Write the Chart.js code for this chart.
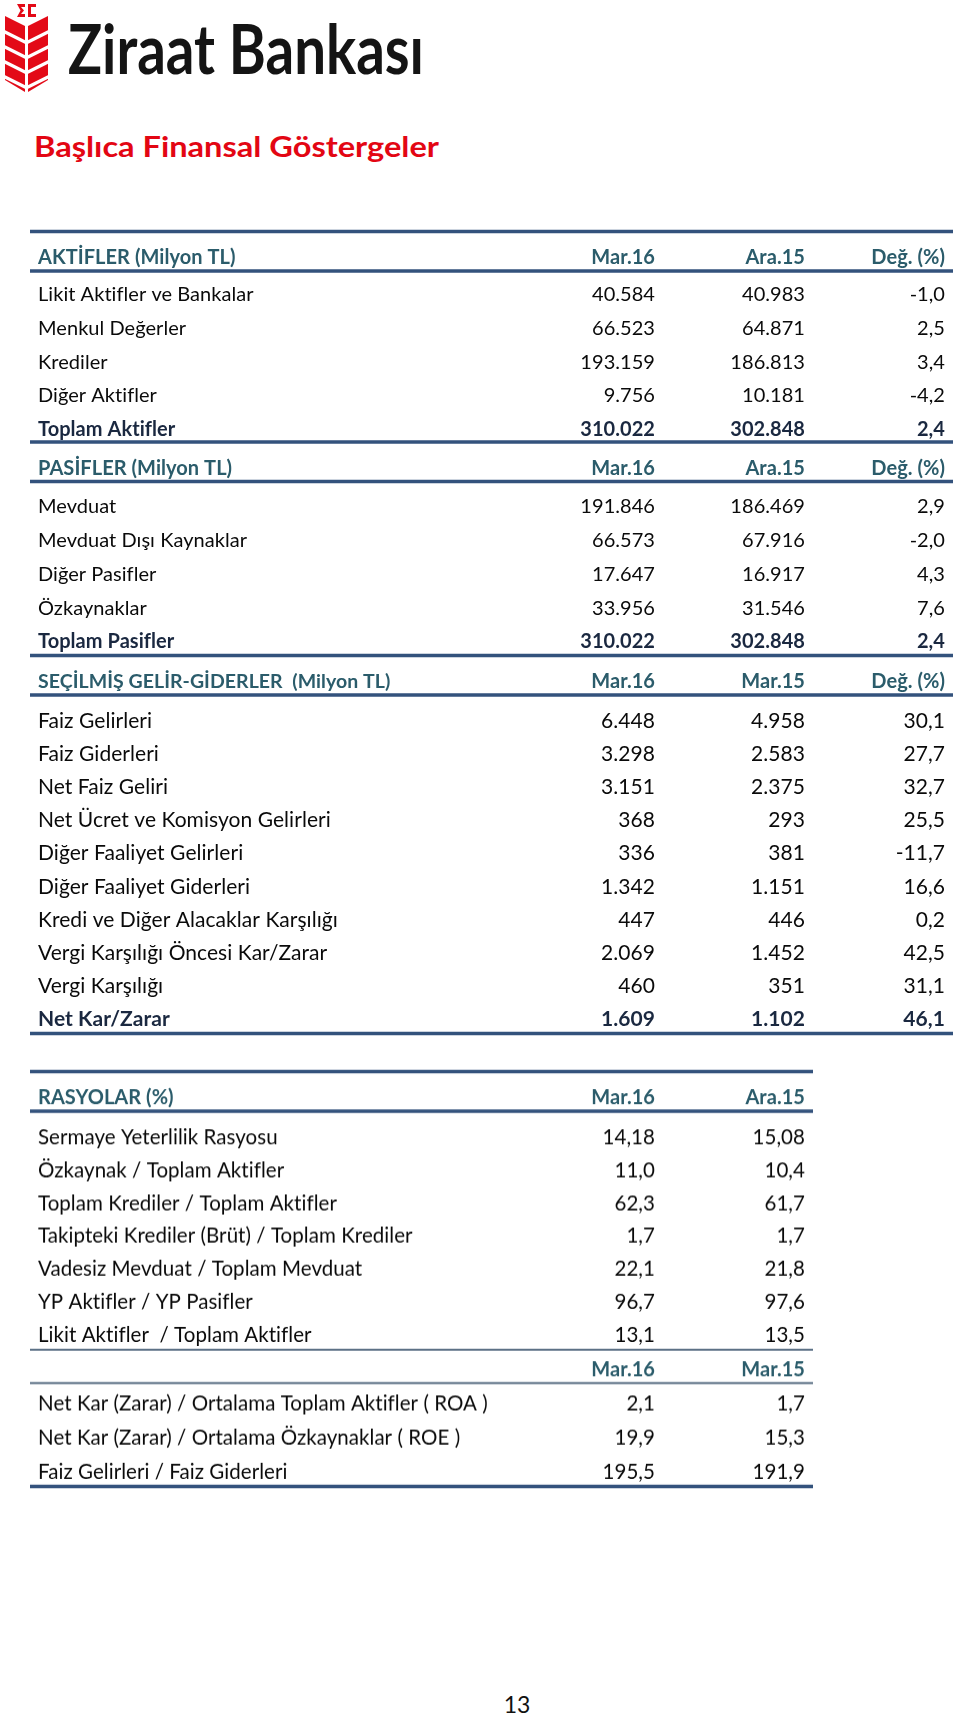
<!DOCTYPE html>
<html lang="tr">
<head>
<meta charset="utf-8">
<title>Başlıca Finansal Göstergeler</title>
<script src="https://cdn.jsdelivr.net/npm/chart.js@4.4.1/dist/chart.umd.min.js"></script>
<style>
  html, body { margin: 0; padding: 0; background: #fff; }
  body { width: 960px; height: 1715px; position: relative; overflow: hidden; font-family: Lato, 'Open Sans', sans-serif; }
  #page { position: absolute; left: 0; top: 0; font-variant-ligatures: none; }
  .section { position: absolute; left: 0; width: 960px; }
</style>
</head>
<body>
<svg id="page" width="960" height="1715" viewBox="0 0 960 1715">
  <!-- amblem -->
  <g fill="#e30a17">
    <polygon points="5,16 25,26 25,92 5,80"/>
    <polygon points="48,16 28,26 28,92 48,80"/>
    <path d="M17,4 L25,4 L25,7 L21,7 L24,10.5 L21,14 L25,14 L25,17 L17,17 L20.5,10.5 Z"/>
    <path d="M36,4 L28,4 L28,17 L36,17 L36,14 L31,14 L31,7 L36,7 Z"/>
  </g>
  <g stroke="#fff" stroke-width="3.2">
    <line x1="3" y1="31" x2="27" y2="43"/>
    <line x1="3" y1="46" x2="27" y2="58"/>
    <line x1="3" y1="61" x2="27" y2="73"/>
    <line x1="3" y1="76" x2="27" y2="88"/>
    <line x1="50" y1="31" x2="26" y2="43"/>
    <line x1="50" y1="46" x2="26" y2="58"/>
    <line x1="50" y1="61" x2="26" y2="73"/>
    <line x1="50" y1="76" x2="26" y2="88"/>
  </g>
  <text x="68" y="74" font-family="Lato" font-weight="700" font-size="69" fill="#141414" textLength="356" lengthAdjust="spacingAndGlyphs">Ziraat Bankası</text>
  <text x="34" y="157" font-family="Lato" font-weight="700" font-size="28" fill="#e30613" textLength="405" lengthAdjust="spacingAndGlyphs">Başlıca Finansal Göstergeler</text>
  <text x="517" y="1713" text-anchor="middle" font-family="Lato" font-size="23" fill="#111">13</text>
</svg>

<div id="aktif" class="section"><canvas></canvas></div>
<div id="pasif" class="section"><canvas></canvas></div>
<div id="gelir" class="section"><canvas></canvas></div>
<div id="rasyo" class="section"><canvas></canvas></div>
<div id="karlilik" class="section"><canvas></canvas></div>

<script>
// --- veriler ---
const aktifTitle = 'AKTİFLER (Milyon TL)';
const aktifColumns = ['Mar.16', 'Ara.15', 'Değ. (%)'];
const aktifLabels = ['Likit Aktifler ve Bankalar', 'Menkul Değerler', 'Krediler', 'Diğer Aktifler', 'Toplam Aktifler'];
const aktifMar16 = [40584, 66523, 193159, 9756, 310022];
const aktifAra15 = [40983, 64871, 186813, 10181, 302848];
const aktifDeg = [-1.0, 2.5, 3.4, -4.2, 2.4];

const pasifTitle = 'PASİFLER (Milyon TL)';
const pasifColumns = ['Mar.16', 'Ara.15', 'Değ. (%)'];
const pasifLabels = ['Mevduat', 'Mevduat Dışı Kaynaklar', 'Diğer Pasifler', 'Özkaynaklar', 'Toplam Pasifler'];
const pasifMar16 = [191846, 66573, 17647, 33956, 310022];
const pasifAra15 = [186469, 67916, 16917, 31546, 302848];
const pasifDeg = [2.9, -2.0, 4.3, 7.6, 2.4];

const gelirTitle = 'SEÇİLMİŞ GELİR-GİDERLER  (Milyon TL)';
const gelirColumns = ['Mar.16', 'Mar.15', 'Değ. (%)'];
const gelirLabels = [
    'Faiz Gelirleri', 'Faiz Giderleri', 'Net Faiz Geliri', 'Net Ücret ve Komisyon Gelirleri',
    'Diğer Faaliyet Gelirleri', 'Diğer Faaliyet Giderleri', 'Kredi ve Diğer Alacaklar Karşılığı',
    'Vergi Karşılığı Öncesi Kar/Zarar', 'Vergi Karşılığı', 'Net Kar/Zarar'
];
const gelirMar16 = [6448, 3298, 3151, 368, 336, 1342, 447, 2069, 460, 1609];
const gelirMar15 = [4958, 2583, 2375, 293, 381, 1151, 446, 1452, 351, 1102];
const gelirDeg = [30.1, 27.7, 32.7, 25.5, -11.7, 16.6, 0.2, 42.5, 31.1, 46.1];

const rasyoTitle = 'RASYOLAR (%)';
const rasyoColumns = ['Mar.16', 'Ara.15'];
const rasyoLabels = [
    'Sermaye Yeterlilik Rasyosu', 'Özkaynak / Toplam Aktifler', 'Toplam Krediler / Toplam Aktifler',
    'Takipteki Krediler (Brüt) / Toplam Krediler', 'Vadesiz Mevduat / Toplam Mevduat',
    'YP Aktifler / YP Pasifler', 'Likit Aktifler  / Toplam Aktifler'
];
const rasyoMar16 = [14.18, 11.0, 62.3, 1.7, 22.1, 96.7, 13.1];
const rasyoAra15 = [15.08, 10.4, 61.7, 1.7, 21.8, 97.6, 13.5];

const karTitle = '';
const karColumns = ['Mar.16', 'Mar.15'];
const karLabels = [
    'Net Kar (Zarar) / Ortalama Toplam Aktifler ( ROA )',
    'Net Kar (Zarar) / Ortalama Özkaynaklar ( ROE )',
    'Faiz Gelirleri / Faiz Giderleri'
];
const karMar16 = [2.1, 19.9, 195.5];
const karMar15 = [1.7, 15.3, 191.9];

// --- görünüm ---
const FONT = "Lato, 'Open Sans', sans-serif";
const HEAD_SIZE = 20;
const TEXT_COLOR = '#0a0a0a';
const TOTAL_COLOR = '#1a2840';
const HEAD_COLOR = '#2b5c6b';
const THICK = { color: '#33527c', width: 3.5 };
const THIN = { color: '#5c7186', width: 2 };
const LABEL_W = 480;
const COL_W = [110, 150, 140];
const PAD_TOP = 70;
const PAD_BOTTOM = 24;

function fmtInt(v) {
    return String(v).replace(/\B(?=(\d{3})+(?!\d))/g, '.');
}

function fmtPct(v) {
    const one = Math.abs(v * 10 - Math.round(v * 10)) < 1e-6;
    return v.toFixed(one ? 1 : 2).replace('.', ',');
}

const sections = [
    {
        id: 'aktif', title: aktifTitle, columns: aktifColumns, labels: aktifLabels,
        values: [aktifMar16.map(fmtInt), aktifAra15.map(fmtInt), aktifDeg.map(fmtPct)],
        boldLast: true, size: 20, headSize: 20, firstRow: 294.5, lastRow: 429, headerGap: 37, tableRight: 945,
        topLine: THICK, underLine: THICK, bottomLine: null
    },
    {
        id: 'pasif', title: pasifTitle, columns: pasifColumns, labels: pasifLabels,
        values: [pasifMar16.map(fmtInt), pasifAra15.map(fmtInt), pasifDeg.map(fmtPct)],
        boldLast: true, size: 20, headSize: 20, firstRow: 507, lastRow: 642, headerGap: 38.5, tableRight: 945,
        topLine: THICK, underLine: THICK, bottomLine: null
    },
    {
        id: 'gelir', title: gelirTitle, columns: gelirColumns, labels: gelirLabels,
        values: [gelirMar16.map(fmtInt), gelirMar15.map(fmtInt), gelirDeg.map(fmtPct)],
        boldLast: true, size: 21, headSize: 19.5, firstRow: 720.5, lastRow: 1019, headerGap: 39, tableRight: 945,
        topLine: THICK, underLine: THICK, bottomLine: THICK
    },
    {
        id: 'rasyo', title: rasyoTitle, columns: rasyoColumns, labels: rasyoLabels,
        values: [rasyoMar16.map(fmtPct), rasyoAra15.map(fmtPct)],
        boldLast: false, size: 20.5, headSize: 20, firstRow: 1137.3, lastRow: 1335, headerGap: 39, tableRight: 805,
        topLine: THICK, underLine: THICK, bottomLine: THIN
    },
    {
        id: 'karlilik', title: karTitle, columns: karColumns, labels: karLabels,
        values: [karMar16.map(fmtPct), karMar15.map(fmtPct)],
        boldLast: false, size: 20.5, headSize: 20, firstRow: 1403.3, lastRow: 1471.7, headerGap: 33.3, tableRight: 805,
        topLine: null, underLine: THIN, bottomLine: THICK
    }
];

function rowFont(sec, i) {
    const bold = sec.boldLast && i === sec.labels.length - 1;
    return { family: FONT, size: sec.size, weight: bold ? 'bold' : 'normal' };
}

function rowColor(sec, i) {
    return sec.boldLast && i === sec.labels.length - 1 ? TOTAL_COLOR : TEXT_COLOR;
}

function drawRule(ctx, y, x1, x2, style) {
    if (!style) return;
    ctx.save();
    ctx.strokeStyle = style.color;
    ctx.lineWidth = style.width;
    ctx.beginPath();
    ctx.moveTo(x1, y);
    ctx.lineTo(x2, y);
    ctx.stroke();
    ctx.restore();
}

// Lato "ti"/"fl" bitişik harflerini kapat (Calibri'deki gibi ayrı dursun)
const noLigatures = {
    id: 'noLigatures',
    beforeDraw(chart) {
        if ('letterSpacing' in chart.ctx) chart.ctx.letterSpacing = '0.05px';
    }
};

function makeSection(sec) {
    const wrap = document.getElementById(sec.id);
    wrap.style.top = (sec.firstRow - PAD_TOP) + 'px';
    wrap.style.height = (PAD_TOP + sec.lastRow - sec.firstRow + PAD_BOTTOM) + 'px';

    const scales = {
        x: { display: false },
        y: {
            type: 'category',
            position: 'left',
            labels: sec.labels,
            grid: { display: false },
            border: { display: false },
            ticks: {
                crossAlign: 'far',
                autoSkip: false,
                padding: 0,
                font: ctx => rowFont(sec, ctx.index),
                color: ctx => rowColor(sec, ctx.index)
            },
            afterFit: scale => { scale.width = LABEL_W; }
        }
    };

    sec.values.forEach((vals, i) => {
        scales['c' + i] = {
            type: 'category',
            axis: 'y',
            position: 'right',
            weight: i + 1,
            labels: vals,
            grid: { display: false },
            border: { display: false },
            ticks: {
                crossAlign: 'far',
                autoSkip: false,
                padding: 0,
                font: ctx => rowFont(sec, ctx.index),
                color: ctx => rowColor(sec, ctx.index)
            },
            afterFit: scale => { scale.width = COL_W[i]; }
        };
    });

    // başlık satırı ve çizgiler
    const headerPlugin = {
        id: 'sectionHeader',
        afterDraw(chart) {
            const ctx = chart.ctx;
            const yScale = chart.scales.y;
            const cols = sec.values.map((_, i) => chart.scales['c' + i]);
            const first = yScale.getPixelForValue(0);
            const last = yScale.getPixelForValue(sec.labels.length - 1);
            const headY = first - sec.headerGap;
            const x1 = yScale.left - 8;
            const x2 = cols[cols.length - 1].right + 8;

            drawRule(ctx, headY - 26.5, x1, x2, sec.topLine);
            drawRule(ctx, headY + 13, x1, x2, sec.underLine);
            drawRule(ctx, last + 14, x1, x2, sec.bottomLine);

            ctx.save();
            ctx.font = `bold ${sec.headSize}px ${FONT}`;
            ctx.fillStyle = HEAD_COLOR;
            ctx.textBaseline = 'middle';
            ctx.textAlign = 'left';
            if (sec.title) ctx.fillText(sec.title, yScale.left, headY);
            ctx.font = `bold ${HEAD_SIZE}px ${FONT}`;
            ctx.textAlign = 'right';
            sec.columns.forEach((c, i) => ctx.fillText(c, cols[i].right, headY));
            ctx.restore();
        }
    };

    new Chart(wrap.querySelector('canvas'), {
        type: 'line',
        data: { datasets: [] },
        options: {
            responsive: true,
            maintainAspectRatio: false,
            animation: false,
            layout: {
                padding: { left: 38, right: 960 - sec.tableRight, top: PAD_TOP, bottom: PAD_BOTTOM }
            },
            plugins: {
                legend: { display: false },
                tooltip: { enabled: false },
                title: { display: false }
            },
            scales: scales
        },
        plugins: [noLigatures, headerPlugin]
    });
}

const fontsReady = document.fonts
    ? Promise.all([
        document.fonts.load('20px Lato'),
        document.fonts.load('bold 20px Lato')
    ]).catch(() => null)
    : Promise.resolve();

fontsReady.then(() => sections.forEach(makeSection));
</script>
</body>
</html>
